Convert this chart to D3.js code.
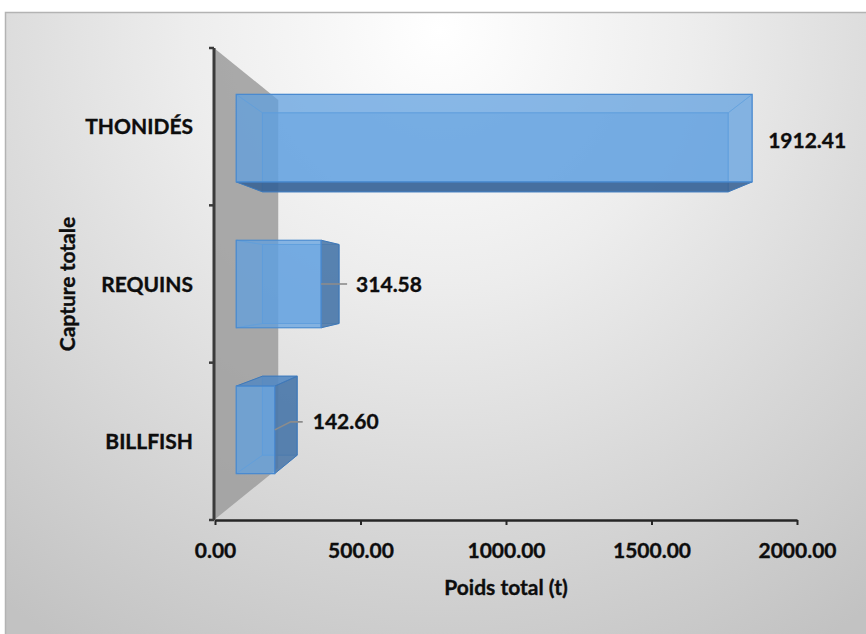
<!DOCTYPE html>
<html>
<head>
<meta charset="utf-8">
<script src="https://cdn.jsdelivr.net/npm/d3@7"></script>
<style>
  body { margin: 0; background: #ffffff; }
  svg { display: block; }
  text { font-family: Lato, "Open Sans", "DejaVu Sans", sans-serif; font-weight: 700; fill: #0d0d0d;
         stroke: #0d0d0d; stroke-width: 0.35px; }
</style>
</head>
<body>
<svg id="chart" width="866" height="634"></svg>
<script>
// ---- data ----
const categories = ["THONIDÉS", "REQUINS", "BILLFISH"];
const values = [1912.41, 314.58, 142.60];
const valueLabels = ["1912.41", "314.58", "142.60"];
const xTicks = [0, 500, 1000, 1500, 2000];
const xTickLabels = ["0.00", "500.00", "1000.00", "1500.00", "2000.00"];
const xTitle = "Poids total (t)";
const yTitle = "Capture totale";

// ---- layout ----
const W = 866, H = 634;
const plot = { left: 215, right: 797, top: 48, bottom: 520 };
const fontSize = 21;
// perspective: depth factors (1 = front plane of the axes)
const depth = { wallNear: 1, wallFar: 0.78, barNear: 0.927, barFar: 0.837 };
// manual nudges of the data labels relative to the front-right edge of each bar
const labelNudge = [
  { dx: 16, dy: 2, leader: false },
  { dx: 35, dy: 0, leader: true },
  { dx: 38, dy: -8, leader: true }
];

const svg = d3.select("#chart");
const defs = svg.append("defs");

// chart background: radial grey gradient
const bg = defs.append("radialGradient")
  .attr("id", "bgGrad")
  .attr("gradientUnits", "userSpaceOnUse")
  .attr("cx", 440).attr("cy", 30).attr("r", 720);
bg.append("stop").attr("offset", "0").attr("stop-color", "#ffffff");
bg.append("stop").attr("offset", "0.35").attr("stop-color", "#ededed");
bg.append("stop").attr("offset", "1").attr("stop-color", "#c2c2c2");

svg.append("rect").attr("width", W).attr("height", H).attr("fill", "#ffffff");
svg.append("rect")
  .attr("x", 5.5).attr("y", 12.5)
  .attr("width", W + 10).attr("height", H + 10)
  .attr("fill", "url(#bgGrad)")
  .attr("stroke", "#b3b3b3").attr("stroke-width", 1.5);

// ---- scales ----
const x = d3.scaleLinear().domain([0, 2000]).range([plot.left, plot.right]);
const y = d3.scaleBand().domain(categories)
  .range([plot.top, plot.bottom])
  .paddingInner(0.4).paddingOuter(0.2);

const vp = [(plot.left + plot.right) / 2, (plot.top + plot.bottom) / 2];
const proj = (px, py, s) => [vp[0] + (px - vp[0]) * s, vp[1] + (py - vp[1]) * s];
const poly = pts => pts.map(p => p.join(",")).join(" ");

// ---- side wall at value 0 ----
svg.append("polygon")
  .attr("points", poly([
    proj(x(0) - 1, plot.top, depth.wallNear),
    proj(x(0) - 1, plot.top, depth.wallFar),
    proj(x(0) - 1, plot.bottom, depth.wallFar),
    proj(x(0) - 1, plot.bottom, depth.wallNear)
  ]))
  .attr("fill", "#9e9e9e")
  .attr("fill-opacity", 0.88);

// ---- 3D bars ----
const barG = svg.append("g");
categories.forEach((c, i) => {
  const x0 = x(0), x1 = x(values[i]);
  const y0 = y(c), y1 = y0 + y.bandwidth();
  const n = (px, py) => proj(px, py, depth.barNear);
  const f = (px, py) => proj(px, py, depth.barFar);

  const faces = {
    back:   { pts: [f(x0, y0), f(x1, y0), f(x1, y1), f(x0, y1)], visible: false },
    left:   { pts: [n(x0, y0), f(x0, y0), f(x0, y1), n(x0, y1)], visible: x0 > vp[0] },
    right:  { pts: [n(x1, y0), f(x1, y0), f(x1, y1), n(x1, y1)], visible: x1 < vp[0] },
    top:    { pts: [n(x0, y0), n(x1, y0), f(x1, y0), f(x0, y0)], visible: y0 > vp[1] },
    bottom: { pts: [n(x0, y1), n(x1, y1), f(x1, y1), f(x0, y1)], visible: y1 < vp[1] }
  };
  const sideFill = { left: "#4a76a6", right: "#4a76a6", top: "#5688c0", bottom: "#355f92" };

  const g = barG.append("g");
  // far face first, then faces turned away, then visible sides, then the front
  g.append("polygon").attr("points", poly(faces.back.pts))
    .attr("fill", "#5c9ee0").attr("fill-opacity", 0.5)
    .attr("stroke", "#4f8fd3").attr("stroke-opacity", 0.7).attr("stroke-width", 1);
  ["left", "right", "top", "bottom"].filter(k => !faces[k].visible).forEach(k => {
    g.append("polygon").attr("points", poly(faces[k].pts))
      .attr("fill", "#5b9bd5").attr("fill-opacity", 0.12)
      .attr("stroke", "#5b9bd5").attr("stroke-opacity", 0.5).attr("stroke-width", 1);
  });
  ["left", "right", "top", "bottom"].filter(k => faces[k].visible).forEach(k => {
    g.append("polygon").attr("points", poly(faces[k].pts))
      .attr("fill", sideFill[k]).attr("fill-opacity", 0.85)
      .attr("stroke", "#3f78b8").attr("stroke-width", 1);
  });
  g.append("polygon").attr("points", poly([n(x0, y0), n(x1, y0), n(x1, y1), n(x0, y1)]))
    .attr("fill", "#5fa0e0").attr("fill-opacity", 0.7)
    .attr("stroke", "#4a8ad0").attr("stroke-width", 1.2);
});

// ---- axes ----
// category axis: line with ticks on the band boundaries
const catAxis = svg.append("g");
catAxis.append("line")
  .attr("x1", x(0) - 1).attr("x2", x(0) - 1)
  .attr("y1", plot.top).attr("y2", plot.bottom)
  .attr("stroke", "#3a3a3a").attr("stroke-width", 3);
const bounds = d3.range(categories.length + 1).map(k => plot.top + k * y.step());
catAxis.selectAll("line.tick").data(bounds).join("line")
  .attr("class", "tick")
  .attr("x1", x(0) - 6).attr("x2", x(0) - 1)
  .attr("y1", d => d).attr("y2", d => d)
  .attr("stroke", "#3a3a3a").attr("stroke-width", 2.5);
catAxis.selectAll("text").data(categories).join("text")
  .attr("x", x(0) - 22)
  .attr("y", d => y(d) + y.bandwidth() / 2)
  .attr("dy", "0.36em")
  .attr("text-anchor", "end")
  .attr("font-size", fontSize)
  .text(d => d);

// value axis
const xAxis = svg.append("g")
  .attr("transform", `translate(0,${plot.bottom})`)
  .call(d3.axisBottom(x).tickValues(xTicks)
    .tickFormat((d, i) => xTickLabels[i])
    .tickSize(5).tickSizeOuter(0));
xAxis.select(".domain").attr("stroke", "#262626").attr("stroke-width", 2.5);
xAxis.selectAll(".tick line").attr("stroke", "#262626").attr("stroke-width", 2);
xAxis.selectAll(".tick text")
  .attr("y", 38).attr("dy", 0)
  .attr("font-size", fontSize)
  .attr("font-family", null)
  .attr("fill", "#0d0d0d");
xAxis.attr("font-family", null).attr("font-size", fontSize);

// axis titles
svg.append("text")
  .attr("x", (plot.left + plot.right) / 2)
  .attr("y", 595)
  .attr("text-anchor", "middle")
  .attr("font-size", fontSize)
  .text(xTitle);
svg.append("text")
  .attr("transform", `translate(75,${(plot.top + plot.bottom) / 2}) rotate(-90)`)
  .attr("text-anchor", "middle")
  .attr("font-size", fontSize)
  .text(yTitle);

// ---- data labels ----
const labG = svg.append("g");
categories.forEach((c, i) => {
  const anchor = proj(x(values[i]), y(c) + y.bandwidth() / 2, depth.barNear);
  const nd = labelNudge[i];
  const lx = anchor[0] + nd.dx, ly = anchor[1] + nd.dy;
  if (nd.leader) {
    const pts = nd.dy === 0
      ? [anchor, [lx - 9, ly]]
      : [anchor, [anchor[0] + Math.abs(nd.dy) * 2, ly], [lx - 10, ly]];
    labG.append("polyline")
      .attr("points", poly(pts))
      .attr("fill", "none")
      .attr("stroke", "#8c8c8c").attr("stroke-width", 1.6);
  }
  labG.append("text")
    .attr("x", lx).attr("y", ly)
    .attr("dy", "0.36em")
    .attr("font-size", fontSize)
    .text(valueLabels[i]);
});
</script>
</body>
</html>
